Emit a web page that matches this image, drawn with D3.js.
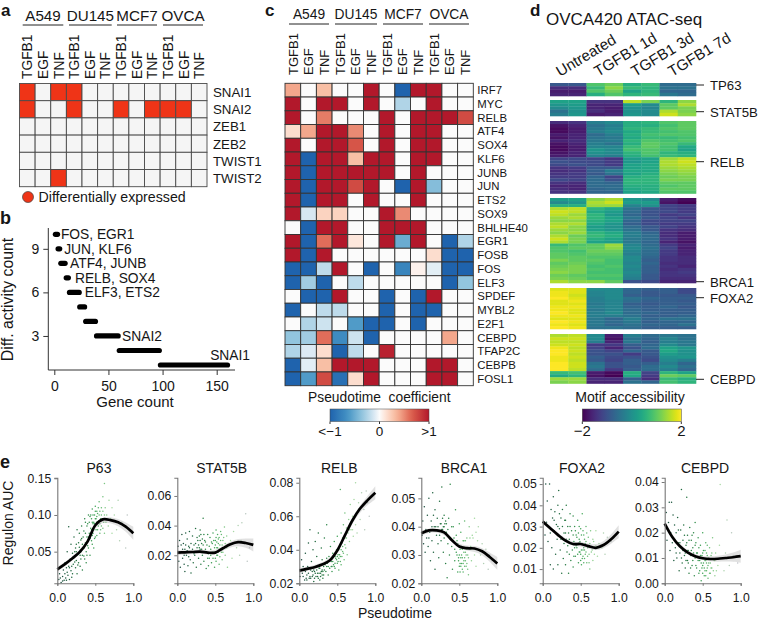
<!DOCTYPE html>
<html><head><meta charset="utf-8">
<style>html,body{margin:0;padding:0;background:#fff}svg{display:block}text{font-family:"Liberation Sans",Arial,sans-serif;fill:#161616}</style>
<script src="https://cdn.jsdelivr.net/npm/d3@7"></script>
</head><body><svg id="c" width="760" height="620"></svg>
<script>
// ---------- DATA ----------
const cellLines=["A549","DU145","MCF7","OVCA"];
const treatments=["TGFB1","EGF","TNF"];
const emtGenes=["SNAI1","SNAI2","ZEB1","ZEB2","TWIST1","TWIST2"];
const emtValues=[
[1,0,1,1,0,0,0,0,0,0,0,0],
[1,0,0,1,0,0,1,0,1,1,1,0],
[0,0,0,0,0,0,0,0,0,0,0,0],
[0,0,0,0,0,0,0,0,0,0,0,0],
[0,0,0,0,0,0,0,0,0,0,0,0],
[0,0,1,0,0,0,0,0,0,0,0,0]];
const countRanges=[[10,1,3],[9,3.5,5],[8,6,10],[7,11,13],[6,14,23],[5,23.5,28],[4,29,38],[3,39,59],[2,60,97],[1,98,160]];
const countTicksX=[0,50,100,150], countTicksY=[3,6,9];
const countLabels=[["FOS, EGR1",10,7],["JUN, KLF6",9,10],["ATF4, JUNB",8,15.5],["RELB, SOX4",7,20],["ELF3, ETS2",6,29],["SNAI2",3,63.5]];
const coefGenes=["IRF7","MYC","RELB","ATF4","SOX4","KLF6","JUNB","JUN","ETS2","SOX9","BHLHE40","EGR1","FOSB","FOS","ELF3","SPDEF","MYBL2","E2F1","CEBPD","TFAP2C","CEBPB","FOSL1"];
const coefValues=[
[.4,0,.3,0,0,1,0,-1,1,1,0,0],
[1,0,1,1,0,1,0,-.25,0,1,0,0],
[1,0,.55,0,0,0,1,0,1,1,1,.75],
[.15,.4,1,1,.5,0,1,0,1,1,0,0],
[1,0,1,1,.7,0,1,0,1,1,0,0],
[1,-1,1,1,.3,1,1,0,1,1,0,0],
[1,-1,1,1,1,1,1,0,1,0,0,0],
[1,-1,1,1,.75,1,0,-1,1,-.4,0,0],
[1,-1,1,1,0,1,0,0,1,0,0,0],
[1,-.12,.2,.2,0,0,1,.5,0,0,0,0],
[0,-1,1,1,0,0,1,1,1,0,0,0],
[1,-1,.6,1,.1,0,1,-.5,1,0,-1,-.25],
[1,-1,1,0,0,0,0,0,0,.15,-1,-1],
[-1,-1,-.2,1,0,-1,0,-.75,.05,-.08,-1,-1],
[-1,-.3,-1,0,-.2,0,0,0,0,0,-1,-.35],
[0,-1,-1,1,0,0,-1,0,-1,1,0,0],
[-1,0,-.2,-.2,0,0,-1,0,-1,-1,0,0],
[0,-.25,-.15,0,-.6,-1,-1,0,-1,0,0,0],
[-.35,-.3,.6,-.7,-.15,-1,0,0,0,0,.4,0],
[-.25,-.1,.15,-1,-.2,0,.95,0,0,0,0,0],
[-1,-.08,.3,1,1,1,0,0,0,1,1,0],
[-1,-.6,.75,-.9,.15,1,0,0,0,1,1,0]];
const atacTimes=["Untreated","TGFB1 1d","TGFB1 3d","TGFB1 7d"];
const atacGenes=[["TP63",85],["STAT5B",111.7],["RELB",161.7],["BRCA1",281.7],["FOXA2",297.7],["CEBPD",379.3]];
const atacBlock1=[[-.9,-.9,.9,1.1,.5,.7,-.6,-.6],[-1.5,-1.5,.7,1.3,.7,.6,-.5,-.5],[-1.7,-1.7,.9,1.1,.3,.6,-.7,-.7],[-1.6,-1.6,.5,.9,.6,.7,-.4,-.6]];
const atacBlock2=[[.3,.3,-1.4,-1.4,1.6,1.2,.6,1.3],[.1,.2,-1.6,-1.6,.2,-.1,1,1.5],[-.1,.1,-1.6,-1.7,0,-.2,1,1.2],[-.5,0,-1.5,-1.7,0,-.1,1.5,1.2],[-.3,.1,-1.7,-1.6,.1,-.1,1.7,1.3]];
const atacBlock3=[[-1.5,-1.4,-.3,-.1,.5,.6,.9,1],[-1.8,-1.6,-.5,-.3,.5,.5,.8,1],[-1.9,-1.7,-.4,-.2,.6,.7,.9,1],[-1.9,-1.7,-.3,-.1,.4,.7,.8,.9],[-1.7,-1.6,-.6,-.3,.5,.8,.9,.9],[-1.8,-1.6,-.5,-.4,.4,.7,.7,.8],[-1.6,-1.5,-.4,-.3,.6,.9,.8,.9],[-1.8,-1.6,-.3,-.5,.5,1,.9,.7],[-1.9,-1.7,-.2,-.2,.7,1,.8,.4],[-1.9,-1.7,.1,-.1,.8,.9,.8,.3],[-1.8,-1.6,0,-.1,.6,.9,.6,.5],[-1.7,-1.6,-.2,-.3,.5,.8,.7,.6],[-1.2,-1.1,-1.2,-1.4,.2,.3,1.4,1.6],[-1,-1.1,-1.1,-1.3,.1,.3,1.5,1.7],[-1.1,-1,-1.1,-1.3,.3,.4,1.5,1.6],[-1.4,-1.3,-.9,-.9,.3,.4,1.4,1.5],[-1.5,-1.4,-.8,-.3,.4,.4,1.3,1.4],[-1.4,-1.3,-.9,-.5,.3,.5,1.2,1.3],[-1.3,-1.3,-.7,-1.2,.5,.6,1.1,1.2],[-1.1,-1.2,-.6,-1,.6,.6,1.2,1.2],[-1.4,-1.5,-.6,-.7,.6,.6,1,1],[-1.6,-1.6,-.6,-.6,.5,.5,.9,1],[-1.5,-1.6,-.7,-.6,.4,.5,1,1],[-1.4,-1.4,-.7,-.7,.3,.4,.9,.9]];
const atacBlock4=[[.2,.3,1.3,1.5,.1,-.1,-1.7,-1.9],[-.1,.1,1.5,1.7,.2,.2,-1.8,-2],[.5,.5,1.4,1.4,-.2,0,-1.2,-1.3],[1.5,1.6,.6,.4,-.5,-.9,-1.2,-1.3],[1.7,1.6,.4,.2,-.6,-1,-1.1,-1.3],[1.6,1.4,.6,.1,-.7,-1,-1.3,-1.2],[1.4,1.5,.6,.3,-.5,-.9,-1.2,-1.4],[1.3,1.3,.5,.3,-.7,-1.1,-1.2,-1.2],[1.5,1.5,.4,.1,-.8,-1.1,-1.3,-1.3],[1.6,1.3,.2,0,-.6,-.9,-1.2,-1.4],[1.4,1.3,.3,.1,-.5,-.9,-1.4,-1.5],[1.3,1.4,.6,.4,-.3,-.7,-1.5,-1.7],[1.5,1.1,.7,.5,-.3,-.6,-1.5,-1.7],[1.7,1.2,.5,.3,-.4,-.6,-1.4,-1.7],[1.5,1.2,.3,.2,-.4,-.7,-1.6,-1.8],[.7,.9,1,1.4,-.2,-.6,-1.3,-1.6],[.9,1,1,1.3,-.1,-.5,-1.2,-1.7],[.9,.8,1.1,1.1,-.2,-.6,-1.3,-1.6],[1,.9,1,1,-.3,-.6,-1.3,-1.6],[1,1,.9,.9,-.1,-.7,-1.4,-1.5],[1.2,1,1,.8,-.1,-.8,-1.4,-1.5],[1,1.1,.9,.8,-.2,-.7,-1.5,-1.5],[1.1,1.2,.8,.9,-.1,-.8,-1.4,-1.6],[1.2,1.2,.9,.8,-.2,-.8,-1.5,-1.4],[1.3,1.2,.8,.8,-.1,-.8,-1.4,-1.3],[1.1,1,.9,.9,-.2,-.9,-1.4,-1.4],[1.2,1.1,.8,.8,-.3,-.9,-1.5,-1.5],[1.5,1.3,1.3,1,-1,-1.1,-1.6,-1.6]];
const atacBlock5=[[1.8,1.8,-.1,-.1,-.7,-.8,-.8,-1.1],[1.9,1.8,-.2,-.1,-.7,-.9,-.8,-1.1],[1.9,1.7,-.2,-.1,-.8,-.9,-.9,-.9],[2,1.8,-.3,-.1,-.5,-.7,-.8,-.8],[1.8,1.9,-.3,-.2,-.6,-.8,-.8,-.9],[1.8,1.8,-.4,-.2,-.8,-.9,-.8,-.8],[1.9,1.9,-.3,-.2,-.7,-.8,-.7,-.9],[1.9,1.8,-.4,-.2,-.6,-.8,-.8,-.8],[2,1.8,-.3,-.1,-.6,-.7,-.8,-.8],[1.9,1.9,-.3,-.3,-.5,-.8,-.8,-.7],[1.8,1.8,-.4,-.7,-.3,-.7,-.5,-.5],[2,1.9,-.4,-.6,-.4,-.8,-.7,-.7],[1.9,1.8,-.4,-.7,-.5,-.7,-.7,-.5],[2,1.9,-.5,-.5,-.6,-.8,-.8,-.8]];
const atacBlock6=[[1.5,1.6,-.1,-1.7,-.3,-.6,-.4,-.5],[1.7,1.7,-.1,-1.8,-.5,-.7,-.2,-.5],[1.6,1.6,-.3,-1.6,-.4,-.8,-.3,-.4],[1.7,1.7,-1.3,-1.3,-.8,-.7,-.1,-.4],[1.9,1.6,-1.2,-1.6,-1,-.6,.3,.1],[2,1.7,-1,-1.2,-.7,-.9,.4,0],[2,1.6,-1,-1,-1.3,-.9,.2,0],[1.9,1.7,-.8,-1.1,-1,-1,0,.1],[1.9,1.6,-.9,-1.2,-.8,-1.1,-.1,-.3],[2,1.7,-.5,-1,-.8,-.8,-.3,-.7],[2,1.7,-.4,-1,-.9,-.6,-.1,-.5],[2,1.6,-.6,-1.3,-.8,-.6,-.3,-.7],[.7,.8,-1.7,-1.9,.5,-1.2,.6,.3],[.4,.6,-1.8,-2,.4,-1.3,1.1,1],[1.4,1.4,-1.5,-1.5,-.8,-1.5,.7,.5],[1.2,1.3,-1.6,-1.6,-.5,-.7,.8,.6]];
const curveX=[0,.1,.2,.3,.4,.5,.6,.7,.8,.9,1];
const p63Curve=[.026,.033,.041,.05,.064,.086,.094,.093,.09,.084,.075];
const stat5bCurve=[.0218,.022,.0222,.0225,.0218,.0218,.0247,.0274,.0288,.0283,.027];
const relbCurve=[.0276,.0286,.0296,.0312,.0336,.0396,.0486,.0576,.0646,.0696,.074];
const brca1Curve=[.0377,.0387,.0387,.038,.0353,.033,.0324,.0323,.0313,.0293,.027];
const foxa2Curve=[.0324,.0292,.0261,.0234,.0218,.0218,.0208,.02,.0213,.024,.0276];
const cebpdCurve=[.0236,.0183,.0146,.0122,.0107,.0099,.0096,.0097,.01,.0103,.0107];
const bandWidthPx=[.5,0,0,0,0,0,.5,1,1.5,2.5,4.5];
const p63Pts=[[.02,.012],[.03,.02],[.05,.008],[.06,.03],[.07,.016],[.08,.025],[.09,.011],[.1,.02],[.1,.035],[.11,.014],[.12,.028],[.13,.05],[.14,.018],[.15,.03],[.15,.084],[.16,.012],[.17,.04],[.18,.024],[.18,.06],[.2,.02],[.2,.048],[.21,.033],[.22,.07],[.22,.042],[.24,.055],[.24,.028],[.25,.038],[.26,.02],[.26,.08],[.27,.047],[.28,.062],[.28,.035],[.29,.075],[.3,.052],[.3,.03],[.31,.04],[.32,.068],[.32,.085],[.33,.025],[.34,.055],[.35,.078],[.35,.044],[.36,.095],[.37,.062],[.38,.05],[.38,.035],[.39,.07],[.4,.088],[.4,.058],[.41,.1],[.42,.075],[.43,.045],[.44,.082],[.45,.065],[.45,.095],[.46,.108],[.47,.075],[.48,.09],[.48,.055],[.49,.1],[.5,.085],[.5,.07],[.5,.112],[.51,.095],[.52,.105],[.53,.08],[.54,.09],[.55,.118],[.55,.1],[.56,.075],[.57,.095],[.58,.085],[.6,.105],[.6,.125],[.61,.09],[.62,.075],[.63,.11],[.65,.1],[.62,.143],[.67,.085],[.68,.12],[.7,.095],[.72,.075],[.72,.11],[.75,.1],[.78,.08],[.8,.12],[.82,.065],[.85,.09],[.9,.055],[.92,.1],[.37,.09],[.43,.098],[.46,.06],[.52,.09],[.58,.1],[.41,.07],[.47,.088],[.34,.07],[.3,.045],[.25,.05],
[.04,.014],[.07,.01],[.12,.011],[.13,.022],[.16,.028],[.19,.03],[.19,.015],[.23,.036],[.23,.05],[.25,.06],[.27,.032],[.29,.056],[.31,.05],[.31,.066],[.33,.045],[.33,.06],[.35,.055],[.36,.04],[.37,.075],[.39,.045],[.39,.085],[.41,.055],[.42,.09],[.43,.068],[.44,.1],[.45,.08],[.46,.09],[.46,.072],[.47,.1],[.48,.08],[.49,.088],[.49,.068],[.5,.095],[.5,.105],[.51,.08],[.52,.098],[.52,.072],[.53,.09],[.53,.102],[.54,.085],[.54,.11],[.55,.092],[.56,.088],[.56,.105],[.57,.08],[.58,.11],[.59,.095],[.6,.082],[.62,.1],[.64,.09]];
const stat5bPts=[[.01,.026],[.02,.016],[.03,.03],[.04,.012],[.05,.022],[.06,.034],[.07,.018],[.08,.028],[.09,.014],[.1,.024],[.1,.009],[.11,.035],[.12,.02],[.13,.031],[.14,.013],[.15,.026],[.16,.036],[.17,.017],[.18,.008],[.18,.028],[.19,.022],[.2,.033],[.21,.015],[.22,.027],[.23,.02],[.24,.038],[.25,.012],[.26,.025],[.27,.03],[.28,.018],[.29,.033],[.3,.024],[.3,.037],[.31,.014],[.32,.028],[.33,.02],[.34,.045],[.35,.016],[.36,.03],[.37,.024],[.38,.011],[.39,.022],[.4,.034],[.4,.018],[.41,.013],[.42,.026],[.43,.032],[.44,.02],[.45,.015],[.46,.028],[.47,.035],[.48,.022],[.49,.012],[.5,.03],[.5,.018],[.51,.037],[.52,.025],[.53,.02],[.54,.031],[.55,.014],[.56,.027],[.57,.036],[.58,.022],[.59,.017],[.6,.03],[.61,.025],[.62,.039],[.63,.02],[.65,.033],[.66,.012],[.67,.027],[.7,.03],[.72,.018],[.74,.036],[.78,.025],[.8,.04],[.82,.02],[.84,.03],[.85,.042],[.88,.028],[.9,.048],[.92,.016],[.95,.025],
[.03,.022],[.05,.027],[.07,.024],[.09,.02],[.11,.027],[.13,.023],[.15,.019],[.16,.025],[.2,.024],[.22,.021],[.24,.028],[.26,.032],[.27,.022],[.28,.027],[.29,.025],[.3,.03],[.31,.034],[.32,.024],[.33,.031],[.34,.027],[.35,.034],[.37,.029],[.39,.027],[.41,.021],[.42,.018],[.44,.024],[.45,.029],[.46,.022],[.47,.018],[.48,.03],[.49,.025],[.5,.022],[.5,.027],[.51,.032],[.51,.016],[.52,.029],[.52,.02],[.53,.034],[.53,.025],[.54,.022],[.54,.028],[.55,.032],[.55,.024],[.56,.019],[.57,.03],[.57,.024],[.58,.034],[.59,.027],[.6,.022],[.61,.032],[.63,.028],[.65,.025]];
const relbPts=[[.01,.024],[.03,.034],[.04,.026],[.05,.03],[.07,.022],[.08,.038],[.1,.025],[.11,.03],[.12,.044],[.13,.023],[.14,.052],[.15,.028],[.16,.033],[.17,.024],[.18,.04],[.19,.021],[.2,.027],[.21,.045],[.22,.03],[.23,.036],[.24,.024],[.25,.05],[.26,.029],[.27,.022],[.28,.026],[.29,.041],[.3,.028],[.3,.034],[.31,.023],[.32,.03],[.33,.047],[.35,.027],[.36,.055],[.37,.032],[.38,.025],[.39,.036],[.4,.029],[.41,.042],[.42,.033],[.43,.027],[.44,.038],[.45,.031],[.46,.045],[.47,.029],[.48,.035],[.49,.04],[.5,.032],[.5,.048],[.51,.037],[.52,.028],[.53,.042],[.54,.036],[.55,.05],[.55,.031],[.56,.044],[.57,.039],[.58,.055],[.59,.034],[.6,.047],[.6,.062],[.61,.041],[.62,.053],[.63,.037],[.54,.076],[.65,.058],[.66,.045],[.67,.067],[.68,.052],[.7,.06],[.71,.048],[.72,.07],[.74,.055],[.75,.062],[.76,.05],[.78,.068],[.74,.08],[.8,.058],[.82,.074],[.85,.064],[.86,.052],[.88,.075],[.9,.068],[.92,.06],[.95,.072],[.36,.035],[.47,.036],[.43,.03],[.52,.035],[.57,.047],
[.05,.024],[.08,.027],[.09,.023],[.1,.022],[.12,.026],[.14,.024],[.15,.023],[.17,.027],[.18,.025],[.19,.028],[.2,.023],[.21,.026],[.22,.024],[.23,.028],[.24,.026],[.25,.023],[.26,.026],[.27,.029],[.28,.024],[.29,.027],[.3,.025],[.31,.027],[.32,.025],[.33,.028],[.34,.031],[.36,.03],[.38,.03],[.4,.034],[.42,.03],[.44,.033],[.45,.036],[.46,.03],[.47,.032],[.48,.038],[.49,.034],[.5,.036],[.51,.033],[.52,.04],[.53,.037],[.54,.033],[.55,.04],[.56,.036],[.57,.042],[.58,.038],[.6,.043],[.62,.047],[.64,.05],[.66,.052],[.7,.052]];
const brca1Pts=[[.01,.037],[.02,.042],[.03,.034],[.04,.047],[.05,.031],[.06,.039],[.07,.036],[.08,.044],[.09,.033],[.1,.05],[.11,.038],[.12,.028],[.13,.042],[.14,.035],[.15,.052],[.16,.031],[.17,.04],[.18,.025],[.18,.046],[.2,.037],[.21,.043],[.22,.034],[.23,.029],[.24,.049],[.25,.041],[.26,.035],[.27,.054],[.28,.039],[.29,.031],[.3,.044],[.3,.036],[.31,.041],[.32,.027],[.33,.038],[.34,.022],[.35,.034],[.36,.043],[.37,.03],[.38,.055],[.4,.033],[.41,.025],[.42,.04],[.43,.036],[.44,.028],[.45,.046],[.46,.031],[.47,.035],[.48,.024],[.49,.029],[.5,.033],[.5,.041],[.51,.027],[.52,.038],[.53,.03],[.54,.025],[.55,.035],[.56,.028],[.57,.042],[.58,.031],[.59,.026],[.6,.036],[.61,.03],[.62,.023],[.63,.04],[.65,.033],[.66,.028],[.67,.037],[.7,.043],[.7,.03],[.72,.026],[.74,.035],[.75,.04],[.78,.03],[.8,.034],[.82,.027],[.85,.032],[.88,.025],[.9,.03],[.93,.028],
[.1,.036],[.14,.04],[.16,.044],[.19,.04],[.22,.04],[.24,.037],[.26,.041],[.27,.039],[.28,.043],[.29,.04],[.3,.04],[.31,.038],[.32,.042],[.33,.041],[.34,.037],[.35,.039],[.38,.036],[.4,.04],[.42,.035],[.44,.032],[.46,.037],[.47,.03],[.48,.034],[.49,.028],[.5,.03],[.5,.026],[.51,.032],[.51,.024],[.52,.029],[.52,.026],[.53,.027],[.53,.033],[.54,.029],[.54,.032],[.55,.027],[.55,.024],[.56,.031],[.56,.035],[.57,.026],[.57,.029],[.58,.028],[.58,.035],[.59,.03],[.6,.027],[.6,.032],[.61,.025],[.62,.029],[.64,.036],[.66,.032],[.68,.036],[.72,.038]];
const foxa2Pts=[[.03,.026],[.04,.05],[.05,.032],[.06,.042],[.07,.023],[.08,.03],[.09,.05],[.1,.027],[.1,.012],[.11,.038],[.12,.02],[.13,.034],[.14,.01],[.14,.044],[.15,.028],[.16,.037],[.17,.017],[.18,.031],[.19,.024],[.2,.012],[.2,.04],[.21,.047],[.22,.029],[.23,.019],[.24,.034],[.25,.008],[.25,.025],[.26,.038],[.27,.015],[.28,.022],[.29,.033],[.3,.012],[.3,.027],[.31,.04],[.32,.018],[.33,.03],[.34,.008],[.35,.024],[.36,.036],[.37,.014],[.38,.028],[.39,.019],[.4,.035],[.4,.011],[.41,.023],[.42,.03],[.43,.016],[.44,.026],[.45,.02],[.46,.033],[.47,.013],[.48,.024],[.49,.018],[.5,.029],[.5,.022],[.51,.012],[.52,.036],[.53,.019],[.54,.026],[.55,.015],[.56,.022],[.57,.03],[.58,.013],[.59,.02],[.6,.025],[.61,.017],[.62,.01],[.63,.028],[.65,.019],[.66,.014],[.67,.023],[.7,.028],[.72,.016],[.74,.022],[.78,.02],[.8,.027],[.82,.017],[.85,.025],[.9,.023],
[.15,.033],[.2,.03],[.22,.036],[.24,.024],[.26,.03],[.28,.027],[.3,.033],[.31,.024],[.33,.021],[.34,.027],[.35,.017],[.36,.03],[.38,.022],[.4,.026],[.41,.016],[.42,.02],[.43,.028],[.44,.021],[.45,.025],[.46,.017],[.47,.022],[.47,.027],[.48,.018],[.48,.03],[.49,.023],[.5,.017],[.5,.014],[.51,.026],[.51,.019],[.52,.015],[.52,.022],[.53,.028],[.53,.016],[.54,.02],[.54,.013],[.55,.024],[.55,.019],[.56,.017],[.57,.023],[.57,.018],[.58,.027],[.59,.016],[.6,.021],[.61,.013],[.62,.022],[.64,.018],[.66,.024],[.68,.017],[.7,.021]];
const cebpdPts=[[.02,.028],[.03,.017],[.05,.024],[.06,.032],[.07,.013],[.08,.02],[.09,.032],[.1,.016],[.11,.027],[.12,.009],[.13,.023],[.14,.014],[.15,.02],[.16,.01],[.17,.026],[.18,.016],[.19,.005],[.2,.012],[.21,.021],[.22,.037],[.23,.008],[.24,.017],[.25,.023],[.26,.011],[.27,.006],[.28,.015],[.29,.034],[.3,.009],[.3,.019],[.31,.013],[.32,.004],[.33,.022],[.34,.011],[.35,.017],[.36,.007],[.37,.014],[.38,.02],[.39,.003],[.4,.01],[.4,.024],[.41,.016],[.42,.006],[.43,.012],[.44,.018],[.45,.004],[.46,.009],[.47,.015],[.48,.001],[.49,.011],[.5,.007],[.5,.02],[.51,.013],[.52,.003],[.53,.009],[.54,.016],[.55,.005],[.56,.011],[.57,.002],[.58,.008],[.59,.014],[.6,.004],[.61,.011],[.62,.006],[.63,.018],[.65,.009],[.66,.003],[.67,.012],[.7,.007],[.72,.015],[.74,.01],[.78,.005],[.8,.012],[.82,.025],[.85,.007],[.88,.02],[.9,.011],[.96,.008],[.73,.039],
[.15,.012],[.18,.021],[.2,.016],[.22,.01],[.24,.013],[.26,.019],[.27,.012],[.28,.009],[.29,.016],[.3,.013],[.31,.008],[.32,.017],[.33,.012],[.34,.006],[.35,.013],[.36,.019],[.37,.009],[.38,.012],[.4,.015],[.41,.007],[.42,.012],[.44,.009],[.45,.014],[.46,.005],[.47,.011],[.48,.008],[.49,.006],[.5,.012],[.5,.004],[.51,.008],[.51,.01],[.52,.006],[.53,.013],[.53,.005],[.54,.009],[.54,.003],[.55,.012],[.55,.008],[.56,.006],[.56,.015],[.57,.007],[.58,.01],[.59,.004],[.6,.008],[.61,.006],[.62,.012],[.64,.005],[.66,.009],[.68,.005]];
const regulons=[
 {name:"P63",curve:p63Curve,pts:p63Pts,ticks:[.05,.10,.15],title:99},
 {name:"STAT5B",curve:stat5bCurve,pts:stat5bPts,ticks:[.02,.04,.06],title:221.7},
 {name:"RELB",curve:relbCurve,pts:relbPts,ticks:[.02,.04,.06,.08],title:339.3},
 {name:"BRCA1",curve:brca1Curve,pts:brca1Pts,ticks:[.02,.03,.04,.05],title:464},
 {name:"FOXA2",curve:foxa2Curve,pts:foxa2Pts,ticks:[.01,.02,.03,.04,.05],title:582},
 {name:"CEBPD",curve:cebpdCurve,pts:cebpdPts,ticks:[0,.01,.02,.03,.04],title:705}];
const regulonXDomain=[0,1], regulonXTicks=[0,.5,1];
const regulonYDomains=[[.0069,.1508],[.0011,.0723],[.02,.083],[.02,.0573],[.0033,.053],[0,.0417]];

// ---------- LAYOUT ----------
const svg=d3.select("#c");
const defs=svg.append("defs");
function T(x,y,s,size,opt={}){
  const t=svg.append("text").attr("x",x).attr("y",y).attr("font-size",size).text(s);
  if(opt.anchor)t.attr("text-anchor",opt.anchor);
  if(opt.weight)t.attr("font-weight",opt.weight);
  if(opt.rot!=null)t.attr("transform",`rotate(${opt.rot} ${x} ${y})`);
  return t;
}
T(1,15.5,"a",17,{weight:"bold"});T(0,224,"b",18,{weight:"bold"});T(265,15.5,"c",17,{weight:"bold"});T(530,15.5,"d",17,{weight:"bold"});T(0,468,"e",18,{weight:"bold"});

const allTreat=cellLines.flatMap(c=>treatments.map(t=>c+"|"+t));
function header(x0,w,yText,yLine,spans,gs,ts,tBase){
  const gx=d3.scaleBand().domain(allTreat).range([x0,x0+w]);
  cellLines.forEach((c,i)=>{
    const [a,b]=spans[i];
    T((a+b)/2,yText,c,gs,{anchor:"middle"});
    svg.append("line").attr("x1",a).attr("x2",b).attr("y1",yLine).attr("y2",yLine).attr("stroke","#222").attr("stroke-width",1);
  });
  allTreat.forEach(k=>{
    const x=gx(k)+gx.bandwidth()/2+ts*.36;
    T(x,tBase,k.split("|")[1],ts,{rot:-90});
  });
  return gx;
}
// panel a
{
 const x=header(19.5,187.5,21,25,[[22.7,63.3],[69,111.7],[117,157],[163,203]],15.2,13.8,79);
 const y=d3.scaleBand().domain(emtGenes).range([83.5,186.7]);
 const g=svg.append("g");
 emtValues.forEach((r,i)=>r.forEach((v,j)=>{
  g.append("rect").attr("x",x(allTreat[j])).attr("y",y(emtGenes[i])).attr("width",x.bandwidth()).attr("height",y.bandwidth())
   .attr("fill",v?"#ef3417":"#f5f5f5").attr("stroke","#4a4a4a").attr("stroke-width",.9);
 }));
 emtGenes.forEach(n=>T(213,y(n)+y.bandwidth()/2+4.8,n,13.3));
 svg.append("circle").attr("cx",28).attr("cy",197).attr("r",5.5).attr("fill","#ef3417").attr("stroke","#444").attr("stroke-width",.7);
 T(38.5,201.8,"Differentially expressed",14.2);
}
// panel b
{
 const x=d3.scaleLinear().domain([0,150]).range([54.3,216.7]);
 const y=d3.scaleLinear().domain([1,10]).range([365,234.3]);
 const ax=svg.append("g").attr("transform","translate(0,370)").call(d3.axisBottom(x).tickValues(countTicksX).tickSize(5));
 ax.select(".domain").attr("d","M48.3,0H235");
 const ay=svg.append("g").attr("transform","translate(48.3,0)").call(d3.axisLeft(y).tickValues(countTicksY).tickSize(5));
 ay.select(".domain").attr("d","M0,228V370");
 [ax,ay].forEach(a=>{a.selectAll("path,line").attr("stroke","#333").attr("stroke-width",1);a.selectAll("text").attr("font-size",14).attr("font-family","Liberation Sans");});
 ax.selectAll("text").attr("dy","0.9em");
 ay.selectAll("text").attr("dx","-1px");
 svg.append("g").selectAll("line").data(countRanges).join("line")
  .attr("x1",d=>x(d[1])).attr("x2",d=>x(d[2])).attr("y1",d=>y(d[0])).attr("y2",d=>y(d[0]))
  .attr("stroke","#000").attr("stroke-width",5.2).attr("stroke-linecap","round");
 countLabels.forEach(([s,c,g])=>T(x(g)-1,y(c)+4.8,s,13.8));
 T(250,y(1)-5.5,"SNAI1",13.8,{anchor:"end"});
 T(13,299.5,"Diff. activity count",15.8,{anchor:"middle",rot:-90});
 T(135,407,"Gene count",15,{anchor:"middle"});
}
// panel c
const rdbu=d3.scaleLinear().domain([-1,-.65,-.35,-.12,0,.12,.35,.65,1])
 .range(["#1f63ad","#4392c4","#92c5de","#d6e7f2","#fbfbfb","#fde3d6","#f7b598","#dc5f4d","#b2182b"]);
{
 const x=header(285,188.3,19,24,[[289,329],[335,377],[383,423],[429,469]],13.8,13,75);
 const y=d3.scaleBand().domain(coefGenes).range([83.3,385.7]);
 const g=svg.append("g");
 coefValues.forEach((r,i)=>r.forEach((v,j)=>{
  g.append("rect").attr("x",x(allTreat[j])).attr("y",y(coefGenes[i])).attr("width",x.bandwidth()).attr("height",y.bandwidth())
   .attr("fill",rdbu(v)).attr("stroke","#333").attr("stroke-width",.9);
 }));
 coefGenes.forEach(n=>T(477.3,y(n)+y.bandwidth()/2+4,n,11.4));
 T(379.3,401.7,"Pseudotime\u00a0 coefficient",13.8,{anchor:"middle"});
 const bx=d3.scaleLinear().domain([-1,1]).range([330,429]);
 colorbar("gc",v=>rdbu(v),[-1,1],330,429);
 [[-1,"<\u22121"],[0,"0"],[1,">1"]].forEach(([v,s])=>{
  svg.append("line").attr("x1",bx(v)).attr("x2",bx(v)).attr("y1",421.5).attr("y2",424).attr("stroke","#333");
  T(bx(v),435.5,s,13.5,{anchor:"middle"});
 });
}
function colorbar(id,col,dom,x0,x1){
 const gr=defs.append("linearGradient").attr("id",id);
 d3.range(0,21).forEach(i=>gr.append("stop").attr("offset",(i*5)+"%").attr("stop-color",col(dom[0]+(dom[1]-dom[0])*i/20)));
 svg.append("rect").attr("x",x0).attr("y",409).attr("width",x1-x0).attr("height",12.5).attr("fill",`url(#${id})`).attr("stroke","#444").attr("stroke-width",.5);
}
// panel d
{
 const vir=d3.scaleSequential(d3.interpolateViridis).domain([-2,2]);
 const blocks=[[atacBlock1,83,96],[atacBlock2,100,116],[atacBlock3,121,193.5],[atacBlock4,198,283],[atacBlock5,288,329],[atacBlock6,334,383.5]];
 const x=d3.scaleBand().domain(d3.range(8)).range([550,696]);
 blocks.forEach(([rows,y0,y1])=>{
  const y=d3.scaleBand().domain(d3.range(rows.length)).range([y0,y1]);
  const g=svg.append("g");
  rows.forEach((r,i)=>r.forEach((v,j)=>{
   g.append("rect").attr("x",x(j)).attr("y",y(i)).attr("width",x.bandwidth()+.3).attr("height",y.bandwidth()+.3).attr("fill",vir(v));
  }));
 });
 T(546,25,"OVCA420 ATAC-seq",17);
 [[560,"Untreated"],[598,"TGFB1 1d"],[635,"TGFB1 3d"],[672,"TGFB1 7d"]].forEach(([px,s])=>T(px,77,s,15.2,{rot:-31}));
 atacGenes.forEach(([s,py])=>{
  svg.append("line").attr("x1",696).attr("x2",704).attr("y1",py).attr("y2",py).attr("stroke","#222");
  T(710,py+5,s,13.2);
 });
 T(630,401.7,"Motif accessibility",14.1,{anchor:"middle"});
 colorbar("gv",v=>vir(v),[-2,2],582.3,681.3);
 [[582.3,"\u22122"],[681.3,"2"]].forEach(([px,s])=>{
  svg.append("line").attr("x1",px).attr("x2",px).attr("y1",421.5).attr("y2",424).attr("stroke","#333");
  T(px,435.5,s,15,{anchor:"middle"});
 });
}
// panel e
{
 const ptCol=d3.scaleLinear().domain([0,.3,.5,.7,1]).range(["#1b4a3f","#23763f","#3fa456","#a5dba0","#c4bdd0"]);
 const x0s=[57.3,177.3,299.3,421.3,542.7,664.7];
 regulons.forEach((r,i)=>{
  const x=d3.scaleLinear().domain(regulonXDomain).range([x0s[i],x0s[i]+76]);
  const y=d3.scaleLinear().domain(regulonYDomains[i]).range([583.3,477.7]);
  const g=svg.append("g");
  g.selectAll("circle").data(r.pts).join("circle").attr("cx",d=>x(d[0])).attr("cy",d=>y(d[1])).attr("r",.75).attr("fill",d=>ptCol(d[0]));
  const band=d3.area().x((d,j)=>x(curveX[j])).y0((d,j)=>y(d)-bandWidthPx[j]-2).y1((d,j)=>y(d)+bandWidthPx[j]+2).curve(d3.curveBasis);
  g.append("path").attr("d",band(r.curve)).attr("fill","#aaa").attr("opacity",.35);
  const line=d3.line().x((d,j)=>x(curveX[j])).y(d=>y(d)).curve(d3.curveCatmullRom);
  g.append("path").attr("d",line(r.curve)).attr("fill","none").attr("stroke","#000").attr("stroke-width",2.7);
  const ax=svg.append("g").attr("transform","translate(0,583.3)").call(d3.axisBottom(x).tickValues(regulonXTicks).tickSize(2.5).tickFormat(d3.format(".1f")));
  const ay=svg.append("g").attr("transform",`translate(${x0s[i]},0)`).call(d3.axisLeft(y).tickValues(r.ticks).tickSize(3).tickFormat(d3.format(".2f")));
  [ax,ay].forEach(a=>{a.selectAll("path,line").attr("stroke","#777").attr("stroke-width",1);a.select(".domain").attr("stroke-width",1.1);a.selectAll("text").attr("font-size",12.2).attr("font-family","Liberation Sans");});
  ax.selectAll("text").attr("dy","1.05em");
  T(r.title,473,r.name,14,{anchor:"middle"});
 });
 T(13,523,"Regulon AUC",14,{anchor:"middle",rot:-90});
 T(395,618,"Pseudotime",14,{anchor:"middle"});
}
</script></body></html>
